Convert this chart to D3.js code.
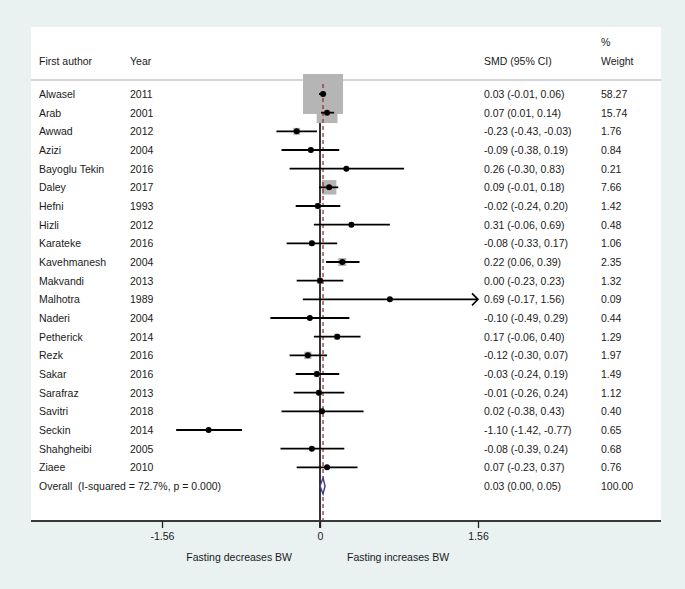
<!DOCTYPE html>
<html><head><meta charset="utf-8">
<script src="https://cdn.jsdelivr.net/npm/d3@7"></script>
<style>body{margin:0;background:#e9f1f1;} svg{display:block;} text{font-family:"Liberation Sans",Arial,sans-serif;fill:#1a1a1a;white-space:pre;}</style>
</head><body>
<script>
const authors = ["Alwasel","Arab","Awwad","Azizi","Bayoglu Tekin","Daley","Hefni","Hizli","Karateke","Kavehmanesh","Makvandi","Malhotra","Naderi","Petherick","Rezk","Sakar","Sarafraz","Savitri","Seckin","Shahgheibi","Ziaee"];
const years = [2011,2001,2012,2004,2016,2017,1993,2012,2016,2004,2013,1989,2004,2014,2016,2016,2013,2018,2014,2005,2010];
const smd = [0.03,0.07,-0.23,-0.09,0.26,0.09,-0.02,0.31,-0.08,0.22,0.00,0.69,-0.10,0.17,-0.12,-0.03,-0.01,0.02,-1.10,-0.08,0.07];
const lower = [-0.01,0.01,-0.43,-0.38,-0.30,-0.01,-0.24,-0.06,-0.33,0.06,-0.23,-0.17,-0.49,-0.06,-0.30,-0.24,-0.26,-0.38,-1.42,-0.39,-0.23];
const upper = [0.06,0.14,-0.03,0.19,0.83,0.18,0.20,0.69,0.17,0.39,0.23,1.56,0.29,0.40,0.07,0.19,0.24,0.43,-0.77,0.24,0.37];
const weights = [58.27,15.74,1.76,0.84,0.21,7.66,1.42,0.48,1.06,2.35,1.32,0.09,0.44,1.29,1.97,1.49,1.12,0.40,0.65,0.68,0.76];
const overall = {label:"Overall  (I-squared = 72.7%, p = 0.000)", est:0.03, lo:0.00, hi:0.05, weight:"100.00"};
const xTicks = [-1.56, 0, 1.56];
const xDomain = [-1.56, 1.56];
const axisLabels = ["Fasting decreases BW","Fasting increases BW"];

const W = 685, H = 589;
const svg = d3.select("body").append("svg").attr("width", W).attr("height", H);
const panel = {left:31, right:661, top:27, bottom:521};
svg.append("rect").attr("x",panel.left).attr("y",panel.top).attr("width",panel.right-panel.left).attr("height",panel.bottom-panel.top).attr("fill","#fff");

const x = d3.scaleLinear().domain(xDomain).range([162, 478]);
const rowIdx = d3.range(authors.length + 1);
const y = d3.scalePoint().domain(rowIdx).range([94, 486]);
const fs = "10.5px";
const colAuthor = 39, colYear = 130, colSMD = 484, colW = 601;
const f2 = d3.format(".2f");
const fmt = v => f2(v).replace("\u2212", "-");

// header
const hdr = svg.append("g").style("font-size", fs);
hdr.append("text").attr("x",colAuthor).attr("y",65).text("First author");
hdr.append("text").attr("x",colYear).attr("y",65).text("Year");
hdr.append("text").attr("x",colSMD).attr("y",65).text("SMD (95% CI)");
hdr.append("text").attr("x",colW).attr("y",46).text("%");
hdr.append("text").attr("x",colW).attr("y",65).text("Weight");
svg.append("line").attr("x1",panel.left).attr("x2",panel.right).attr("y1",80).attr("y2",80).attr("stroke","#c6c6c6").attr("stroke-width",1.5);

// null line
svg.append("line").attr("x1",x(0)).attr("x2",x(0)).attr("y1",82).attr("y2",panel.bottom+7).attr("stroke","#000").attr("stroke-width",1.6);

// boxes
const sideK = 40/Math.sqrt(d3.max(weights));
const data = authors.map((a,i)=>({a, yr:years[i], est:smd[i], lo:lower[i], hi:upper[i], w:weights[i], i}));
svg.append("g").selectAll("rect").data(data).join("rect")
  .attr("x", d => x(d.est) - sideK*Math.sqrt(d.w)/2)
  .attr("y", d => y(d.i) - sideK*Math.sqrt(d.w)/2)
  .attr("width", d => sideK*Math.sqrt(d.w))
  .attr("height", d => sideK*Math.sqrt(d.w))
  .attr("fill", "#b5b5b5");

// overall dashed line
svg.append("line").attr("x1",x(overall.est)).attr("x2",x(overall.est)).attr("y1",84).attr("y2",panel.bottom)
  .attr("stroke","#9b2d3a").attr("stroke-width",1.3).attr("stroke-dasharray","4,3");

// CIs
const maxX = xDomain[1];
svg.append("g").selectAll("line").data(data).join("line")
  .attr("x1", d => x(Math.max(d.lo, xDomain[0])))
  .attr("x2", d => x(Math.min(d.hi, maxX)))
  .attr("y1", d => y(d.i)).attr("y2", d => y(d.i))
  .attr("stroke","#000").attr("stroke-width",1.8);
// arrow for clipped CI
svg.append("g").selectAll("path").data(data.filter(d => d.hi >= maxX)).join("path")
  .attr("d", d => { const xe = x(maxX), yy = y(d.i); return `M${xe-6},${yy-6} L${xe},${yy} L${xe-6},${yy+6}`; })
  .attr("fill","none").attr("stroke","#000").attr("stroke-width",1.6);

// points
svg.append("g").selectAll("circle").data(data).join("circle")
  .attr("cx", d => x(d.est)).attr("cy", d => y(d.i)).attr("r", 3).attr("fill","#000");

// overall diamond
const yo = y(authors.length);
svg.append("path")
  .attr("d", `M${x(overall.lo)},${yo} L${x(overall.est)},${yo-8} L${x(overall.hi)},${yo} L${x(overall.est)},${yo+8} Z`)
  .attr("fill","#fff").attr("stroke","#3a3a8c").attr("stroke-width",1.4);

// table text
const tg = svg.append("g").style("font-size", fs);
data.forEach(d => {
  const yy = y(d.i) + 4;
  tg.append("text").attr("x",colAuthor).attr("y",yy).text(d.a);
  tg.append("text").attr("x",colYear).attr("y",yy).text(d.yr);
  tg.append("text").attr("x",colSMD).attr("y",yy).text(`${fmt(d.est)} (${fmt(d.lo)}, ${fmt(d.hi)})`);
  tg.append("text").attr("x",colW).attr("y",yy).text(fmt(d.w));
});
tg.append("text").attr("x",colAuthor).attr("y",yo+4).text(overall.label);
tg.append("text").attr("x",colSMD).attr("y",yo+4).text(`${fmt(overall.est)} (${fmt(overall.lo)}, ${fmt(overall.hi)})`);
tg.append("text").attr("x",colW).attr("y",yo+4).text(overall.weight);

// axis
svg.append("line").attr("x1",panel.left).attr("x2",panel.right).attr("y1",panel.bottom).attr("y2",panel.bottom).attr("stroke","#3a3a3a").attr("stroke-width",2);
const axis = d3.axisBottom(x).tickValues(xTicks).tickFormat(d => d === 0 ? "0" : fmt(d)).tickSize(7).tickPadding(5);
const ag = svg.append("g").attr("transform",`translate(0,${panel.bottom})`).call(axis);
ag.select(".domain").remove();
ag.selectAll(".tick line").attr("stroke","#222").attr("stroke-width",1.3);
ag.selectAll(".tick text").style("font-size",fs).style("font-family","Liberation Sans, Arial, sans-serif").attr("fill","#1a1a1a");
const lg = svg.append("g").style("font-size", fs);
lg.append("text").attr("x",x(0)-28).attr("y",561).attr("text-anchor","end").text(axisLabels[0]);
lg.append("text").attr("x",x(0)+27).attr("y",561).text(axisLabels[1]);
</script>
</body></html>
